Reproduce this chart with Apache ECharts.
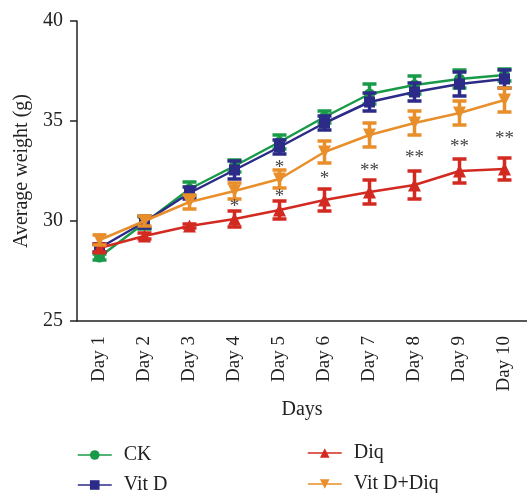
<!DOCTYPE html>
<html><head><meta charset="utf-8">
<script src="https://cdn.jsdelivr.net/npm/echarts@6/dist/echarts.min.js"></script>
<style>html,body{margin:0;padding:0;background:#fff}#c{width:527px;height:493px}</style>
</head><body><div id="c"></div>
<script>
const days = ['Day 1','Day 2','Day 3','Day 4','Day 5','Day 6','Day 7','Day 8','Day 9','Day 10'];
const ck      = [28.2, 29.9, 31.6, 32.75, 33.95, 35.2, 36.35, 36.8, 37.1, 37.3];
const ckErr   = [0.15, 0.3, 0.35, 0.3, 0.35, 0.3, 0.5, 0.45, 0.45, 0.3];
const vitD    = [28.65, 29.95, 31.4, 32.55, 33.7, 34.9, 35.95, 36.45, 36.85, 37.1];
const vitDErr = [0.2, 0.3, 0.3, 0.45, 0.35, 0.35, 0.45, 0.45, 0.6, 0.45];
const diq     = [28.65, 29.25, 29.75, 30.1, 30.55, 31.05, 31.45, 31.8, 32.5, 32.6];
const diqErr  = [0.2, 0.15, 0.1, 0.4, 0.45, 0.55, 0.6, 0.7, 0.6, 0.55];
const combo   = [29.05, 30.0, 30.95, 31.5, 32.1, 33.45, 34.3, 34.9, 35.4, 36.05];
const comboErr= [0.25, 0.25, 0.35, 0.4, 0.45, 0.55, 0.6, 0.6, 0.6, 0.6];
// significance marks: [day index, y value, text]
const marks = [[3, 30.92, '*'], [4, 32.85, '*'], [4, 31.39, '*'], [5, 32.3, '*'], [6, 32.72, '**'], [7, 33.34, '**'], [8, 33.89, '**'], [9, 34.3, '**']];
const yTicks = {min: 25, max: 40, interval: 5};

const FONT = 'Liberation Serif';
const C = {ck:'#199a48', vit:'#2c2b88', diq:'#d22a21', combo:'#e88f2b'};

function errSeries(name, vals, errs, color, z){
  return {
    type:'custom', name: name+'_err', z: z, silent:true,
    data: vals.map((v,i)=>[i, v-errs[i], v+errs[i]]),
    renderItem: function(params, api){
      const x = api.value(0);
      const lo = api.coord([x, api.value(1)]);
      const hi = api.coord([x, api.value(2)]);
      const w = 7;
      const st = {stroke: color, lineWidth: 3.5};
      return {type:'group', children:[
        {type:'line', shape:{x1:lo[0],y1:lo[1],x2:hi[0],y2:hi[1]}, style:st},
        {type:'line', shape:{x1:lo[0]-w,y1:lo[1],x2:lo[0]+w,y2:lo[1]}, style:st},
        {type:'line', shape:{x1:hi[0]-w,y1:hi[1],x2:hi[0]+w,y2:hi[1]}, style:st}
      ]};
    }
  };
}
function lineSeries(name, vals, color, symbol, size, rotate, z){
  return {type:'line', name:name, data:vals, z:z, symbol:symbol, symbolSize:size, symbolRotate:rotate,
    showAllSymbol:true, lineStyle:{color:color, width:2.5}, itemStyle:{color:color}};
}
function legendItem(name, left, top){
  return {left:left, top:top, orient:'horizontal', itemWidth:34, itemHeight:12, padding:0,
    data:[name], textStyle:{fontSize:20, color:'#222', fontFamily:FONT, padding:[0,0,0,7]},
    lineStyle:{width:1.5}};
}

const chart = echarts.init(document.getElementById('c'), null, {renderer:'canvas'});
chart.setOption({
  animation:false,
  textStyle:{fontFamily:FONT},
  grid:{left:77, right:0, top:21, bottom:172, containLabel:false, outerBoundsMode:'none'},
  xAxis:{type:'category', data:days, boundaryGap:true,
    axisLine:{lineStyle:{color:'#222', width:1.5}},
    axisTick:{alignWithLabel:true, length:7, lineStyle:{color:'#222', width:1.5}},
    axisLabel:{rotate:90, margin:15, fontSize:19, color:'#222', fontFamily:FONT},
    name:'Days', nameLocation:'middle', nameGap:76, nameTextStyle:{fontSize:20, color:'#222', fontFamily:FONT}},
  yAxis:{type:'value', min:yTicks.min, max:yTicks.max, interval:yTicks.interval,
    splitLine:{show:false},
    axisLine:{show:true, lineStyle:{color:'#222', width:1.5}},
    axisTick:{show:true, length:7, lineStyle:{color:'#222', width:1.5}},
    axisLabel:{margin:14, fontSize:20, color:'#222', fontFamily:FONT},
    name:'Average weight (g)', nameLocation:'middle', nameGap:43, nameRotate:90,
    nameTextStyle:{fontSize:20, color:'#222', fontFamily:FONT}},
  legend:[
    legendItem('CK', 77, 445),
    legendItem('Vit D', 77, 475),
    legendItem('Diq', 307, 443),
    legendItem('Vit D+Diq', 307, 474)
  ],
  series:[
    errSeries('CK', ck, ckErr, C.ck, 2),
    lineSeries('CK', ck, C.ck, 'circle', 11, 0, 3),
    errSeries('Vit D', vitD, vitDErr, C.vit, 4),
    lineSeries('Vit D', vitD, C.vit, 'rect', 11, 0, 5),
    errSeries('Diq', diq, diqErr, C.diq, 6),
    lineSeries('Diq', diq, C.diq, 'triangle', 13, 0, 7),
    errSeries('Vit D+Diq', combo, comboErr, C.combo, 8),
    lineSeries('Vit D+Diq', combo, C.combo, 'triangle', 13, 180, 9),
    {type:'custom', name:'sig', z:10, silent:true, data:marks,
      renderItem:function(params, api){
        const p = api.coord([api.value(0), api.value(1)]);
        return {type:'text', x:p[0], y:p[1] + 4, style:{text: marks[params.dataIndex][2], fill:'#444',
          font:'19px "' + FONT + '"', align:'center', verticalAlign:'middle'}};
      }}
  ]
});
</script></body></html>
